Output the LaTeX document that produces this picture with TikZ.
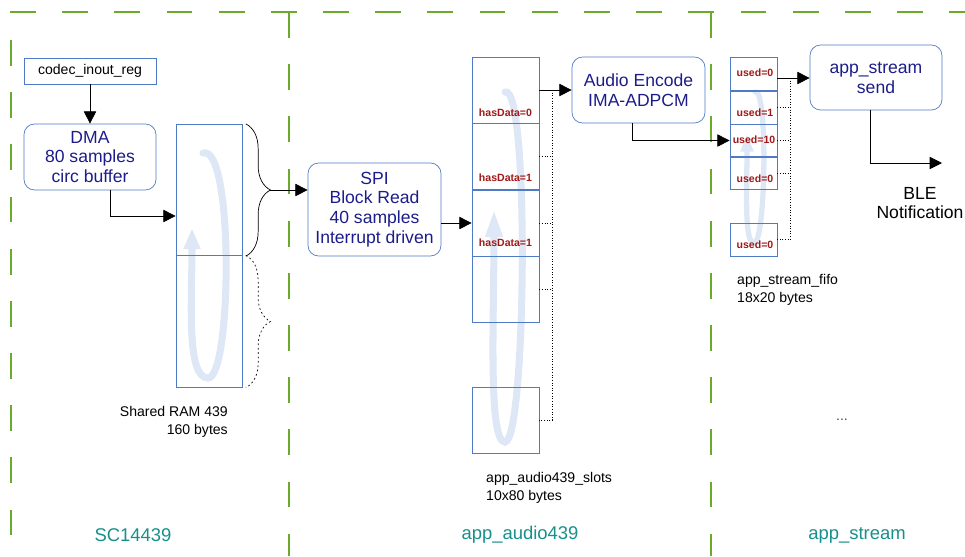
\documentclass[tikz,border=0pt]{standalone}
\usepackage{fontspec}
\setmainfont{Liberation Sans}
\usetikzlibrary{arrows.meta,calc,positioning,decorations.pathreplacing}
\definecolor{boxline}{HTML}{4F7BC4}
\definecolor{boxtext}{HTML}{1C1C8A}
\definecolor{flagred}{HTML}{A01818}
\definecolor{zoneline}{HTML}{6CAA2C}
\definecolor{zonetext}{HTML}{17908C}
\definecolor{swirlblue}{HTML}{DDE7F5}
\tikzset{>=Latex,line width=.6pt,
  every node/.style={font=\fontsize{8}{10.2}\selectfont},
  proc/.style={draw=boxline,rounded corners=6pt,align=center,text=boxtext,
    font=\fontsize{10}{11.3}\selectfont,inner sep=0pt},
  cell/.style={draw=boxline,inner sep=0pt},
  ramcell/.style={cell,minimum width=1.32cm,minimum height=2.63cm},
  slotcell/.style={cell,minimum width=1.34cm,minimum height=1.32cm},
  fifocell/.style={cell,minimum width=.94cm,minimum height=.66cm},
  flag/.style={text=flagred,font=\fontsize{6}{7}\selectfont\bfseries,inner sep=0pt},
  flow/.style={-{Triangle[length=7pt,width=7pt]}},
  bus/.style={densely dotted,line width=.5pt},
  zone/.style={draw=zoneline,line width=.6pt,dash pattern=on 14.7pt off 15pt},
  swirl/.style={draw=swirlblue,line cap=round},
  zonelabel/.style={text=zonetext,font=\fontsize{10.5}{12}\selectfont}}

\begin{document}
\begin{tikzpicture}[x=0.02cm,y=-0.02cm]
\useasboundingbox (0,0) rectangle (965,556);
% Zones: dashed frame split into three columns.
\draw[zone] (10,12)--(965,12);\draw[zone] (11,40)--(11,556);
\draw[zone] (289,12)--(289,556);\draw[zone] (711,12)--(711,556);
\node[zonelabel] (zsc) at (133,535) {SC14439};
\node[zonelabel] (zaudio) at (520,535) {app\_audio439};
\node[zonelabel] (zstream) at (857,535) {app\_stream};
% Ring-buffer swirls behind the memory cells.
\draw[swirl,line width=4pt,-{Triangle[length=12pt,width=9pt]}] (203,153) .. controls (234,144) and (232,378) .. (208,378) .. controls (186,378) and (192,300) .. (192,228);
\draw[swirl,line width=4pt,-{Triangle[length=16pt,width=9pt]}] (505,92) .. controls (530,84) and (526,442) .. (505,442) .. controls (488,442) and (494,320) .. (494,209);
\draw[swirl,line width=3pt,-{Triangle[length=10pt,width=7pt]}] (755,92) .. controls (768,86) and (766,243) .. (754,243) .. controls (744,243) and (747,190) .. (747,134);
% SC14439 side.
\node[cell,minimum width=2.64cm,minimum height=.52cm] (reg) at (90,71) {codec\_inout\_reg};
\node[proc,minimum width=2.64cm,minimum height=1.32cm] (dma) at (90,157) {DMA\\80 samples\\circ buffer};
\node[ramcell] (ram1) at (209,190) {};\node[ramcell] (ram2) at (209,321.5) {};
\node[anchor=north east,align=right] (ramtxt) at (234,400) {Shared RAM 439\\160 bytes};
\draw[flow] (reg.south)--(dma.north);
\draw[flow] ([xshift=.4cm]dma.south) |- ([yshift=-.52cm]ram1.west);
\draw[decorate,decoration={brace,amplitude=14pt}] ([xshift=2pt]ram1.north east)--([xshift=2pt]ram1.south east);
\draw[decorate,decoration={brace,amplitude=14pt},dash pattern=on 1pt off 1.5pt] ([xshift=2pt]ram2.north east)--([xshift=2pt]ram2.south east);
\coordinate (btip) at ($(ram1.east)+(16pt,0)$);
% app_audio439 side.
\node[proc,minimum width=2.66cm,minimum height=1.86cm] (spi) at (374.5,209.5) {SPI\\Block Read\\40 samples\\Interrupt driven};
\draw[flow] (btip)--(btip -| spi.west);
\node[slotcell] (slot1) at (505.5,90) {};\node[slotcell] (slot2) at (505.5,156.5) {};
\node[slotcell] (slot3) at (505.5,223) {};\node[slotcell] (slot4) at (505.5,289) {};
\node[slotcell] (slot5) at (505.5,420) {};
\node[flag] (has1) at (505.5,113) {hasData=0};\node[flag] (has2) at (505.5,178) {hasData=1};
\node[flag] (has3) at (505.5,243) {hasData=1};
\node[anchor=north west,align=left] (slottxt) at (480,466) {app\_audio439\_slots\\10x80 bytes};
\draw[flow] (spi.east |- slot3.west)--(slot3.west);
\node[proc,minimum width=2.66cm,minimum height=1.32cm] (enc) at (638.5,90) {Audio Encode\\IMA-ADPCM};
\draw[flow] (slot1.east)--(enc.west);
\draw[bus] ([xshift=.26cm]slot1.east)--([xshift=.26cm]slot5.east)--(slot5.east);
\foreach \s in {slot2,slot3,slot4} \draw[bus] (\s.east)--++(.26cm,0);
% app_stream side.
\node[fifocell] (fifo1) at (753.5,74) {};\node[fifocell] (fifo2) at (753.5,107.5) {};
\node[fifocell] (fifo3) at (753.5,140.5) {};\node[fifocell] (fifo4) at (753.5,173) {};
\node[fifocell] (fifo5) at (753.5,239.5) {};
\node[flag] (use1) at (755,73) {used=0};\node[flag] (use2) at (755,113) {used=1};
\node[flag] (use3) at (754,140) {used=10};\node[flag] (use4) at (755,179) {used=0};
\node[flag] (use5) at (755,245) {used=0};
\node[anchor=north west,align=left] (fifotxt) at (731,268) {app\_stream\_fifo\\18x20 bytes};
\draw[flow] ([xshift=-.12cm]enc.south) |- (fifo3.west);
\node[proc,minimum width=2.64cm,minimum height=1.3cm] (send) at (876,77.5) {app\_stream\\send};
\draw[flow] ([yshift=-.08cm]fifo1.east)--([yshift=-.08cm]fifo1.east -| send.west);
\draw[bus] ([xshift=.26cm,yshift=-.08cm]fifo1.east)--([xshift=.26cm]fifo5.east)--(fifo5.east);
\foreach \s in {fifo2,fifo3,fifo4} \draw[bus] (\s.east)--++(.26cm,0);
\coordinate (bleend) at (942,163);
\draw[flow] ([xshift=-.12cm]send.south) |- (bleend);
\node[align=center,font=\fontsize{10}{11.3}\selectfont] (ble) at (920,203) {BLE\\Notification};
\node[text=black!70] (more) at (842,420) {...};
\end{tikzpicture}
\end{document}
